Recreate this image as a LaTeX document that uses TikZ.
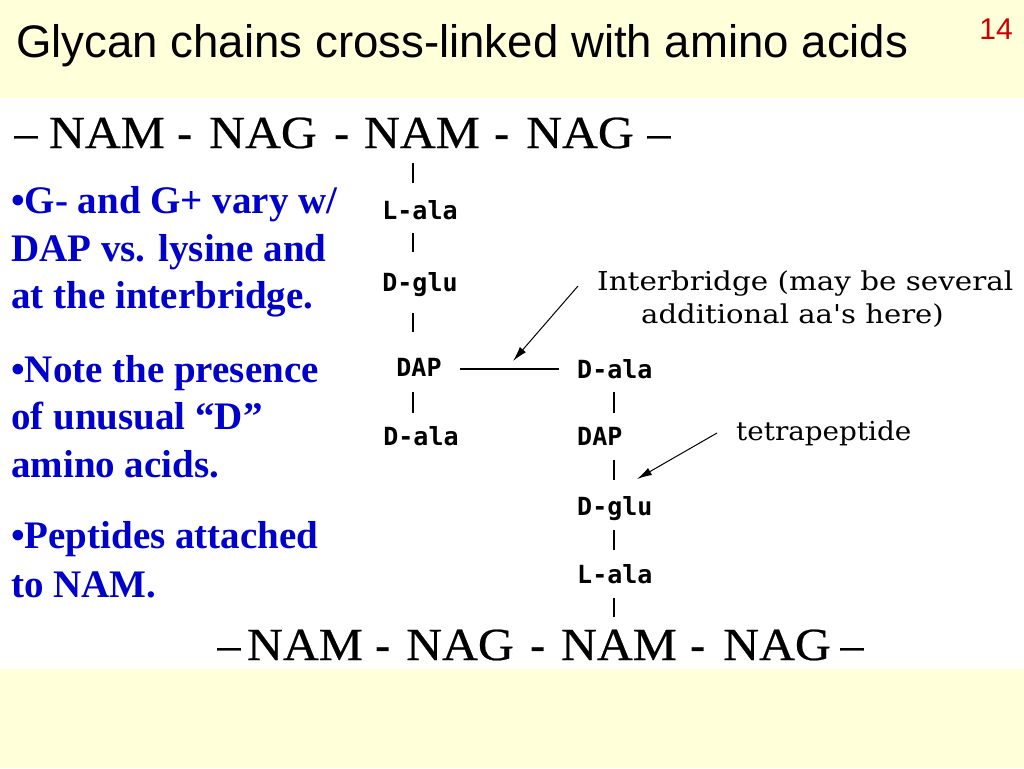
\documentclass[tikz,border=0pt]{standalone}
\usepackage{fontspec}
\setmainfont{Liberation Serif}
\newfontfamily\titlefont{Liberation Sans}
\newfontfamily\glycfont[FakeBold=0.5]{Liberation Serif}
\newfontfamily\aafont{DejaVu Sans Mono}
\newfontfamily\notefont{DejaVu Serif}
\usetikzlibrary{arrows.meta}
\definecolor{bgyellow}{HTML}{FFFFDA}
\definecolor{bulletblue}{HTML}{0000CC}
\definecolor{pagered}{HTML}{CC0000}
\newcommand\gwide[1]{\scalebox{1.08}[1]{#1}}
\begin{document}
\begin{tikzpicture}[x=1pt,y=-1pt,
  glyc/.style={font=\glycfont\fontsize{46}{50}\selectfont, anchor=base, inner sep=0pt},
  gdash/.style={font=\bfseries\fontsize{46}{50}\selectfont, anchor=base, inner sep=0pt},
  aa/.style={font=\aafont\bfseries\fontsize{25}{28}\selectfont, inner sep=0pt, text height=18pt, text depth=0pt},
  note/.style={font=\notefont\fontsize{26}{30}\selectfont, inner sep=0pt, anchor=base west},
  bul/.style={font=\bfseries\fontsize{39}{47}\selectfont, text=bulletblue, inner sep=0pt, anchor=base west},
  bar/.style={line width=2.2pt},
  hline/.style={line width=1.4pt},
  arr/.style={line width=1pt, -{Latex[length=15pt,width=8pt]}},
]
\useasboundingbox (0,0) rectangle (1024,768);
\fill[bgyellow] (0,0) rectangle (1024,768);
\fill[white] (0,98) rectangle (1024,669);

% title
\node[anchor=base west, font=\titlefont\fontsize{45.6}{50}\selectfont, inner sep=0pt] (title) at (16,58) {Glycan chains cross-linked with amino acids};
\node[anchor=base east, font=\titlefont\fontsize{30}{34}\selectfont, text=pagered, inner sep=0pt] (pg) at (1013,40) {14};

% top glycan chain
\node[glyc] (tdl) at (26,148) {–};
\node[glyc] (tnam1) at (107,148) {\gwide{NAM}};
\node[gdash] (td1) at (185,148) {-};
\node[glyc] (tnag1) at (263,148) {\gwide{NAG}};
\node[gdash] (td2) at (342,148) {-};
\node[glyc] (tnam2) at (422,148) {\gwide{NAM}};
\node[gdash] (td3) at (502,148) {-};
\node[glyc] (tnag2) at (580,148) {\gwide{NAG}};
\node[glyc] (tdr) at (659,148) {–};

% bottom glycan chain
\node[glyc] (bdl) at (229,660) {–};
\node[glyc] (bnam1) at (305,660) {\gwide{NAM}};
\node[gdash] (bd1) at (383,660) {-};
\node[glyc] (bnag1) at (460,660) {\gwide{NAG}};
\node[gdash] (bd2) at (538,660) {-};
\node[glyc] (bnam2) at (619,660) {\gwide{NAM}};
\node[gdash] (bd3) at (698,660) {-};
\node[glyc] (bnag2) at (777,660) {\gwide{NAG}};
\node[glyc] (bdr) at (852,660) {–};

% left peptide
\node[aa, anchor=base] (lalaL) at (420,219) {L-ala};
\node[aa, anchor=base] (dgluL) at (420,291) {D-glu};
\node[aa, anchor=base] (dapL) at (419,376) {DAP};
\node[aa, anchor=base] (dalaL) at (421,445) {D-ala};

% right peptide
\node[aa, anchor=base west] (dalaR) at (577,378) {D-ala};
\node[aa, anchor=base west] (dapR) at (577,445) {DAP};
\node[aa, anchor=base west] (dgluR) at (577,515) {D-glu};
\node[aa, anchor=base west] (lalaR) at (577,583) {L-ala};

\coordinate (lc) at (413,0);
\coordinate (rc) at (614,0);

\draw[bar, shorten <=15pt, shorten >=18pt] (tnam2.south -| lc) -- (lalaL.north -| lc);
\draw[bar, shorten <=14pt, shorten >=21pt] (lalaL.south -| lc) -- (dgluL.north -| lc);
\draw[bar, shorten <=22pt, shorten >=26pt] (dgluL.south -| lc) -- (dapL.north -| lc);
\draw[bar, shorten <=16pt, shorten >=14pt] (dapL.south -| lc) -- (dalaL.north -| lc);

\draw[bar, shorten <=14pt, shorten >=14pt] (dalaR.south -| rc) -- (dapR.north -| rc);
\draw[bar, shorten <=15pt, shorten >=17pt] (dapR.south -| rc) -- (dgluR.north -| rc);
\draw[bar, shorten <=15pt, shorten >=15pt] (dgluR.south -| rc) -- (lalaR.north -| rc);
\draw[bar, shorten <=15pt, shorten >=12pt] (lalaR.south -| rc) -- (bnam2.north -| rc);

% interbridge
\draw[hline, shorten <=18pt, shorten >=18pt] ([yshift=-2pt]dapL.east) -- ([yshift=-2pt]dapL.east -| dalaR.west);

% annotations
\node[note] (ib1) at (597,290) {\scalebox{1.13}[1]{Interbridge (may be several}};
\node[note] (ib2) at (641,323) {\scalebox{1.12}[1]{additional aa's here)}};
\coordinate (ibt) at (578,286);
\coordinate (ibh) at (513,361);
\draw[arr] (ibt) -- (ibh);

\node[note] (tp) at (736,440) {\scalebox{1.07}[1]{tetrapeptide}};
\coordinate (tpt) at (717,433);
\coordinate (tph) at (637,479);
\draw[arr] (tpt) -- (tph);

% bullet text
\node[bul] (b1) at (11,213) {\textbullet G- and G+ vary w/};
\node[bul] (b2) at (11,261) {DAP vs. lysine and};
\node[bul] (b3) at (11,308) {at the interbridge.};
\node[bul] (b4) at (11,382) {\textbullet Note the presence};
\node[bul] (b5) at (11,429) {of unusual “D”};
\node[bul] (b6) at (11,477) {amino acids.};
\node[bul] (b7) at (11,548) {\textbullet Peptides attached};
\node[bul] (b8) at (11,597) {to NAM.};
\end{tikzpicture}
\end{document}
